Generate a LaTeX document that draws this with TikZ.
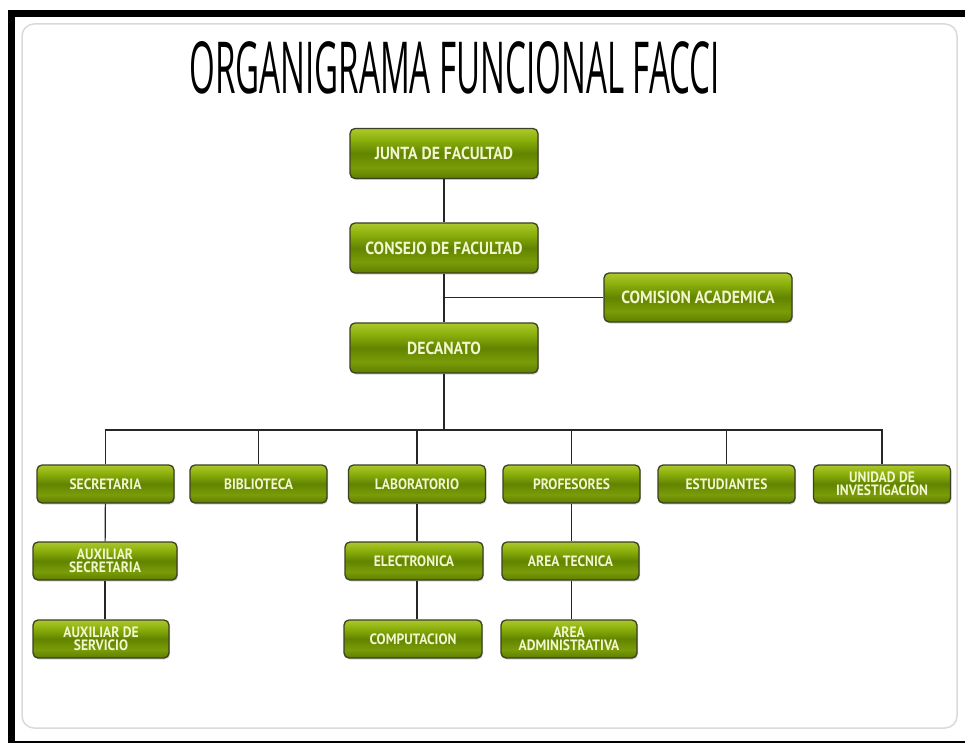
\documentclass[tikz,border=0pt]{standalone}
\usepackage{fontspec}
\usepackage{graphicx}
\usepackage{tikz}
\usetikzlibrary{shadows}
\newfontfamily\boxfont[FakeStretch=0.9]{PT Sans}
\newfontfamily\titlefont{Open Sans}
\definecolor{gtop}{RGB}{172,200,45}
\definecolor{gupper}{RGB}{140,176,12}
\definecolor{gmid}{RGB}{98,132,0}
\definecolor{gbot}{RGB}{122,156,8}
\definecolor{gedge}{RGB}{95,125,0}
\definecolor{boxline}{RGB}{58,64,34}
\definecolor{boxtext}{RGB}{242,246,205}
\definecolor{panelgray}{RGB}{218,218,218}
\pgfdeclareverticalshading{gloss}{100bp}{color(0bp)=(gedge); color(25bp)=(gedge); color(36bp)=(gbot); color(50bp)=(gmid); color(64bp)=(gupper); color(75bp)=(gtop); color(100bp)=(gtop)}
\newcommand{\lbl}[2]{\fontsize{#1}{#2}\selectfont}

\begin{document}
\begin{tikzpicture}[x=1pt,y=-1pt,
    orgbox/.style={draw=boxline, line width=1.3pt, rounded corners=5pt, shading=gloss,
        drop shadow={shadow xshift=1pt, shadow yshift=-1.5pt, opacity=0.3},
        text=boxtext, align=center, inner sep=0pt,
        font=\boxfont\bfseries\lbl{15}{13.5}, minimum width=137pt, minimum height=38pt},
    bigbox/.style={orgbox, font=\boxfont\bfseries\lbl{17.5}{19}, minimum width=188pt, minimum height=50pt},
    link/.style={line width=1.2pt, draw=black!85}]
    \useasboundingbox (0,0) rectangle (965,743);
    \fill[white] (0,0) rectangle (965,743);
    \fill[black] (8,10) rectangle (965,17);
    \fill[black] (8,10) rectangle (15,743);
    \fill[black] (15,741) rectangle (965,743);
    \draw[panelgray, line width=1.5pt, rounded corners=12pt] (22,24) rectangle (957,728);

    \node[anchor=base west] (title) at (186,94) {\resizebox{530pt}{52pt}{\titlefont ORGANIGRAMA FUNCIONAL FACCI}};

    \node[bigbox] (junta) at (444,153.5) {JUNTA DE FACULTAD};
    \node[bigbox] (consejo) at (444,248) {CONSEJO DE FACULTAD};
    \node[bigbox, minimum height=49pt] (comision) at (698,297.5) {COMISION ACADEMICA};
    \node[bigbox] (decanato) at (444,348) {DECANATO};

    \node[orgbox] (secretaria) at (105.5,484) {SECRETARIA};
    \node[orgbox] (biblioteca) at (258.5,484) {BIBLIOTECA};
    \node[orgbox] (laboratorio) at (417,484) {LABORATORIO};
    \node[orgbox] (profesores) at (571.5,484) {PROFESORES};
    \node[orgbox] (estudiantes) at (726.5,484) {ESTUDIANTES};
    \node[orgbox] (unidad) at (882,484) {UNIDAD DE\\INVESTIGACION};

    \node[orgbox, minimum width=144pt] (auxsec) at (105,561) {AUXILIAR\\SECRETARIA};
    \node[orgbox, minimum width=136pt] (auxser) at (101,639) {AUXILIAR DE\\SERVICIO};
    \node[orgbox, minimum width=138pt] (electronica) at (414,561) {ELECTRONICA};
    \node[orgbox, minimum width=138pt] (computacion) at (413,639) {COMPUTACION};
    \node[orgbox] (tecnica) at (570.5,561) {AREA TECNICA};
    \node[orgbox, minimum width=136pt] (administrativa) at (569,639) {AREA\\ADMINISTRATIVA};

    \coordinate (bus) at (444,430);

    \draw[link] (junta) -- (consejo);
    \draw[link] (consejo) -- (decanato);
    \draw[link] (comision.west) -- (comision.west -| consejo.south);
    \draw[link] (decanato.south) -- (bus);
    \draw[link] (secretaria.north) |- (bus) -| (unidad.north);
    \foreach \n in {biblioteca, laboratorio, profesores, estudiantes}
        \draw[link] (\n.north) -- (\n.north |- bus);

    \draw[link] (secretaria) -- (auxsec);
    \draw[link] (auxsec.south) -- (auxsec.south |- auxser.north);
    \draw[link] (laboratorio.south) -- (laboratorio.south |- electronica.north);
    \draw[link] (laboratorio.south |- electronica.south) -- (laboratorio.south |- computacion.north);
    \draw[link] (profesores.south) -- (profesores.south |- tecnica.north);
    \draw[link] (profesores.south |- tecnica.south) -- (profesores.south |- administrativa.north);
\end{tikzpicture}
\end{document}
